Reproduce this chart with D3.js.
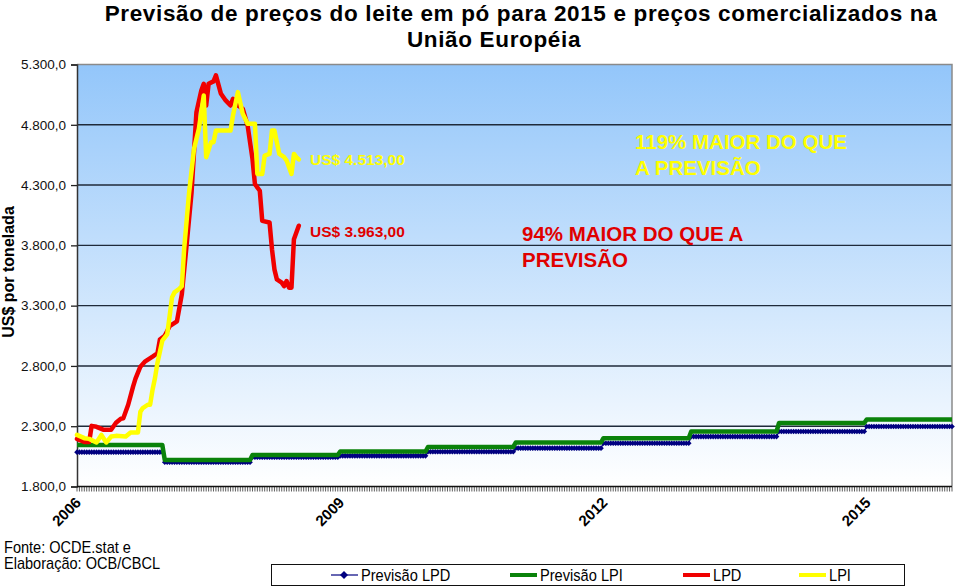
<!DOCTYPE html>
<html><head><meta charset="utf-8">
<script src="https://cdn.jsdelivr.net/npm/d3@7"></script>
<style>
body{margin:0;background:#fff}
svg{display:block}
text{font-family:"Liberation Sans",Arial,sans-serif}
</style>
</head><body>
<svg id="chart" width="959" height="586"></svg>
<script>
// ---- data ----
const years = [2006, 2007, 2008, 2009, 2010, 2011, 2012, 2013, 2014, 2015];
const periodsPerYear = 36; // 10-day periods
const previsaoLPD = [2085, 2001, 2043, 2054, 2088, 2118, 2159, 2214, 2256, 2298];
const previsaoLPI = [2145, 2020, 2061, 2090, 2128, 2165, 2201, 2256, 2326, 2356];
const lpdPeriod = [0,3,5,6,8,11,14,16,18,19,21,23,24,26,28,31,33,34,36,38,41,43,45,47,49,51,52,53,54,56,57,59,61,63,64,66,68,70,72,73,75,76,79,80,81,82,84,85,86,87,88,89,91];
const lpdValue  = [2195,2170,2170,2303,2295,2270,2270,2328,2362,2366,2478,2628,2694,2794,2838,2877,2905,3019,3050,3130,3169,3393,3809,4239,4905,5085,5140,4960,5140,5160,5210,5060,5002,4960,5016,4960,4933,4794,4516,4308,4253,4003,3990,3768,3601,3518,3491,3462,3504,3449,3449,3851,3963];
const lpiPeriod = [0,3,5,8,10,12,14,16,20,22,25,26,27,29,30,31,32,33,35,37,38,39,40,42,43,44,46,48,50,52,53,55,56,57,63,64,66,68,70,73,74,76,77,79,80,81,83,85,86,88,89,90,91];
const lpiValue  = [2228,2201,2195,2165,2228,2165,2214,2220,2214,2248,2248,2420,2451,2478,2478,2603,2700,2825,3010,3061,3213,3370,3410,3440,3462,3780,4239,4600,4766,5043,4531,4655,4655,4752,4752,4877,5071,4891,4808,4808,4392,4392,4544,4558,4752,4752,4558,4531,4503,4392,4558,4531,4513];
const yTicks = [1800, 2300, 2800, 3300, 3800, 4300, 4800, 5300];
const xTickLabels = ["2006", "2009", "2012", "2015"];
const seriesNames = ["Previsão LPD", "Previsão LPI", "LPD", "LPI"];
const titleLines = ["Previsão de preços do leite em pó para 2015 e preços comercializados na", "União Européia"];

// ---- layout ----
const svg = d3.select("#chart");
const L = 77, R = 952, T = 64.5, B = 486.5;
const nPeriods = years.length * periodsPerYear;
const x = d3.scaleLinear().domain([0, nPeriods - 1]).range([L, R]);
const y = d3.scaleLinear().domain([1800, 5300]).range([B, T]);
const fmt = v => d3.format(",.1f")(v).replace(/,/g, "X").replace(".", ",").replace(/X/g, ".");

const defs = svg.append("defs");
const grad = defs.append("linearGradient").attr("id", "bg").attr("x1", 0).attr("y1", 0).attr("x2", 0).attr("y2", 1);
grad.append("stop").attr("offset", "0%").attr("stop-color", "#93c6fa");
grad.append("stop").attr("offset", "100%").attr("stop-color", "#ffffff");

svg.append("rect").attr("x", L).attr("y", T).attr("width", R - L).attr("height", B - T).attr("fill", "url(#bg)");

// gridlines
svg.append("g").selectAll("line").data(yTicks.filter(d => d !== 1800 && d !== 5300)).join("line")
  .attr("x1", L).attr("x2", R).attr("y1", d => y(d)).attr("y2", d => y(d))
  .attr("stroke", "#1f2a3a").attr("stroke-width", 1.4);
// top & right border
svg.append("path").attr("d", `M${L},${T}H${R}V${B}`).attr("fill", "none").attr("stroke", "#8a8a8a").attr("stroke-width", 1.5);

// y axis
const yAxis = d3.axisLeft(y).tickValues(yTicks).tickSize(6).tickFormat(fmt);
const gy = svg.append("g").attr("transform", `translate(${L},0)`).call(yAxis);
gy.select(".domain").attr("stroke", "#333").attr("stroke-width", 1.5);
gy.selectAll(".tick line").attr("stroke", "#222").attr("stroke-width", 1.3);
gy.selectAll(".tick text").attr("font-size", 13.5).attr("fill", "#111").attr("x", -11)
  .style("font-family", "'Liberation Sans',Arial,sans-serif");

// x axis
const gx = svg.append("g").attr("transform", `translate(0,${B})`);
gx.selectAll("line.t").data(d3.range(nPeriods)).join("line").attr("class", "t")
  .attr("x1", d => x(d)).attr("x2", d => x(d)).attr("y1", 0).attr("y2", 5)
  .attr("stroke", "#333").attr("stroke-width", 0.8);
gx.append("line").attr("x1", L).attr("x2", R).attr("y1", 0).attr("y2", 0).attr("stroke", "#111").attr("stroke-width", 1.5);
xTickLabels.forEach((lab, i) => {
  const px = x(i * 3 * periodsPerYear);
  svg.append("text").attr("transform", `translate(${px + 5},${B + 17}) rotate(-45)`)
    .attr("text-anchor", "end").attr("font-size", 15).attr("font-weight", "bold").attr("fill", "#000").text(lab);
});

// forecast series (annual values held through each year)
const periods = d3.range(nPeriods);
const lpdF = periods.map(i => ({i, v: previsaoLPD[Math.floor(i / periodsPerYear)]}));
const lpiF = periods.map(i => ({i, v: previsaoLPI[Math.floor(i / periodsPerYear)]}));
const line = d3.line().x(d => x(d.i)).y(d => y(d.v));

svg.append("path").datum(lpdF).attr("d", line).attr("fill", "none").attr("stroke", "#000080").attr("stroke-width", 1.2);
const diamond = "M0,-2.8L2.8,0L0,2.8L-2.8,0Z";
svg.append("g").selectAll("path").data(lpdF).join("path")
  .attr("transform", d => `translate(${x(d.i)},${y(d.v)})`).attr("d", diamond).attr("fill", "#000080");
svg.append("path").datum(lpiF).attr("d", line).attr("fill", "none").attr("stroke", "#0a820a").attr("stroke-width", 4.5).attr("stroke-linejoin", "round");

const lpd = lpdPeriod.map((p, k) => ({i: p, v: lpdValue[k]}));
const lpi = lpiPeriod.map((p, k) => ({i: p, v: lpiValue[k]}));
svg.append("path").datum(lpd).attr("d", line).attr("fill", "none").attr("stroke", "#f00000").attr("stroke-width", 4.5).attr("stroke-linejoin", "round").attr("stroke-linecap", "round");
svg.append("path").datum(lpi).attr("d", line).attr("fill", "none").attr("stroke", "#ffff00").attr("stroke-width", 4.5).attr("stroke-linejoin", "round").attr("stroke-linecap", "round");

// annotations
svg.append("text").attr("x", 310).attr("y", 165).attr("font-size", 15.5).attr("font-weight", "bold").attr("fill", "#ffff00").text("US$ " + "4.513,00");
svg.append("text").attr("x", 310).attr("y", 237).attr("font-size", 15.5).attr("font-weight", "bold").attr("fill", "#e00000").text("US$ " + "3.963,00");
const a1 = svg.append("text").attr("font-size", 20.5).attr("font-weight", "bold").attr("fill", "#ffff00");
a1.append("tspan").attr("x", 635).attr("y", 149).text("119% MAIOR DO QUE");
a1.append("tspan").attr("x", 635).attr("y", 175).text("A PREVISÃO");
const a2 = svg.append("text").attr("font-size", 20.5).attr("font-weight", "bold").attr("fill", "#e00000");
a2.append("tspan").attr("x", 522).attr("y", 241).text("94% MAIOR DO QUE A");
a2.append("tspan").attr("x", 522).attr("y", 267).text("PREVISÃO");

// title
svg.append("text").attr("x", 521).attr("y", 21).attr("text-anchor", "middle").attr("font-size", 22.5).attr("letter-spacing", 0.65).attr("font-weight", "bold").text(titleLines[0]);
svg.append("text").attr("x", 494).attr("y", 46.5).attr("text-anchor", "middle").attr("font-size", 22.5).attr("letter-spacing", 0.65).attr("font-weight", "bold").text(titleLines[1]);

// y title
svg.append("text").attr("transform", "translate(14,272) rotate(-90)").attr("text-anchor", "middle").attr("font-size", 16).attr("font-weight", "bold").text("US$ por tonelada");

// source (condensed look)
svg.append("text").attr("transform", "translate(4,553) scale(0.91,1)").attr("font-size", 16).text("Fonte: OCDE.stat e");
svg.append("text").attr("transform", "translate(4,569) scale(0.91,1)").attr("font-size", 16).text("Elaboração: OCB/CBCL");

// legend
svg.append("rect").attr("x", 271.5).attr("y", 564.5).attr("width", 633).attr("height", 21).attr("fill", "#fff").attr("stroke", "#111").attr("stroke-width", 1);
const legX = [331, 510, 683, 799];
const legColors = ["#000080", "#0a820a", "#f00000", "#ffff00"];
seriesNames.forEach((name, k) => {
  const g = svg.append("g").attr("transform", `translate(${legX[k]},575)`);
  g.append("line").attr("x1", 0).attr("x2", 27).attr("stroke", legColors[k]).attr("stroke-width", k === 0 ? 1.2 : 4);
  if (k === 0) g.append("path").attr("transform", "translate(13,0)").attr("d", "M0,-4L4,0L0,4L-4,0Z").attr("fill", "#000080");
  g.append("text").attr("transform", "translate(30,6) scale(0.86,1)").attr("font-size", 17).text(name);
});
</script>
</body></html>
